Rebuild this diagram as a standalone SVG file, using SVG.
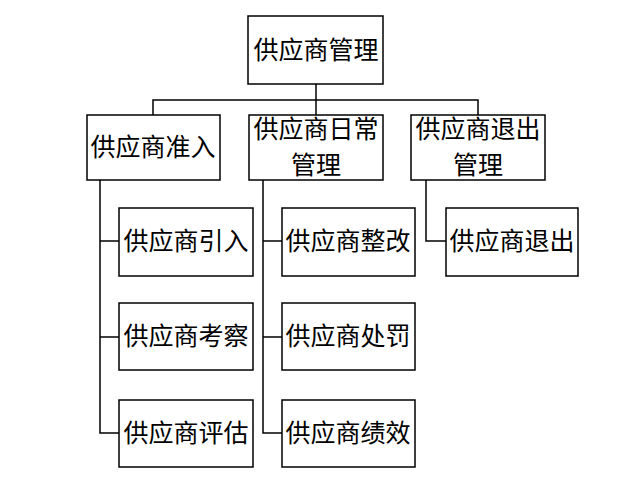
<svg xmlns="http://www.w3.org/2000/svg" width="640" height="482" viewBox="0 0 640 482">
<style>
rect{fill:#fff;stroke:#000;stroke-width:1.5}
.c line,.c polyline{stroke:#000;stroke-width:1.5;fill:none}
text{font-family:"Noto Sans CJK SC",sans-serif;font-size:25px;text-anchor:middle;fill:#000}
</style>
<rect width="640" height="482" style="stroke:none"/>
<g class="c">
<line x1="316" y1="84" x2="316" y2="115"/>
<polyline points="153,115 153,100 478,100 478,115"/>
<polyline points="100,180 100,433 119,433"/>
<line x1="100" y1="241" x2="119" y2="241"/>
<line x1="100" y1="337" x2="119" y2="337"/>
<polyline points="263,180 263,433 282,433"/>
<line x1="263" y1="241" x2="282" y2="241"/>
<line x1="263" y1="337" x2="282" y2="337"/>
<polyline points="426,180 426,241 446,241"/>
</g>
<g id="root"><rect x="248" y="16" width="135" height="68"/><text x="316" y="59">供应商管理</text></g>
<g id="n1"><rect x="87" y="115" width="133" height="65"/><text x="153" y="156">供应商准入</text></g>
<g id="n2"><rect x="249" y="115" width="134" height="65"/><text x="316" y="138">供应商日常</text><text x="316" y="174">管理</text></g>
<g id="n3"><rect x="411" y="115" width="134" height="65"/><text x="478" y="138">供应商退出</text><text x="478" y="174">管理</text></g>
<g id="a1"><rect x="119" y="208" width="134" height="68"/><text x="186" y="250">供应商引入</text></g>
<g id="a2"><rect x="119" y="303" width="134" height="67"/><text x="186" y="345">供应商考察</text></g>
<g id="a3"><rect x="119" y="400" width="134" height="67"/><text x="186" y="442">供应商评估</text></g>
<g id="b1"><rect x="282" y="208" width="133" height="68"/><text x="348" y="250">供应商整改</text></g>
<g id="b2"><rect x="282" y="303" width="133" height="67"/><text x="348" y="345">供应商处罚</text></g>
<g id="b3"><rect x="282" y="400" width="133" height="67"/><text x="348" y="442">供应商绩效</text></g>
<g id="c1"><rect x="446" y="208" width="132" height="68"/><text x="512" y="250">供应商退出</text></g>
</svg>
